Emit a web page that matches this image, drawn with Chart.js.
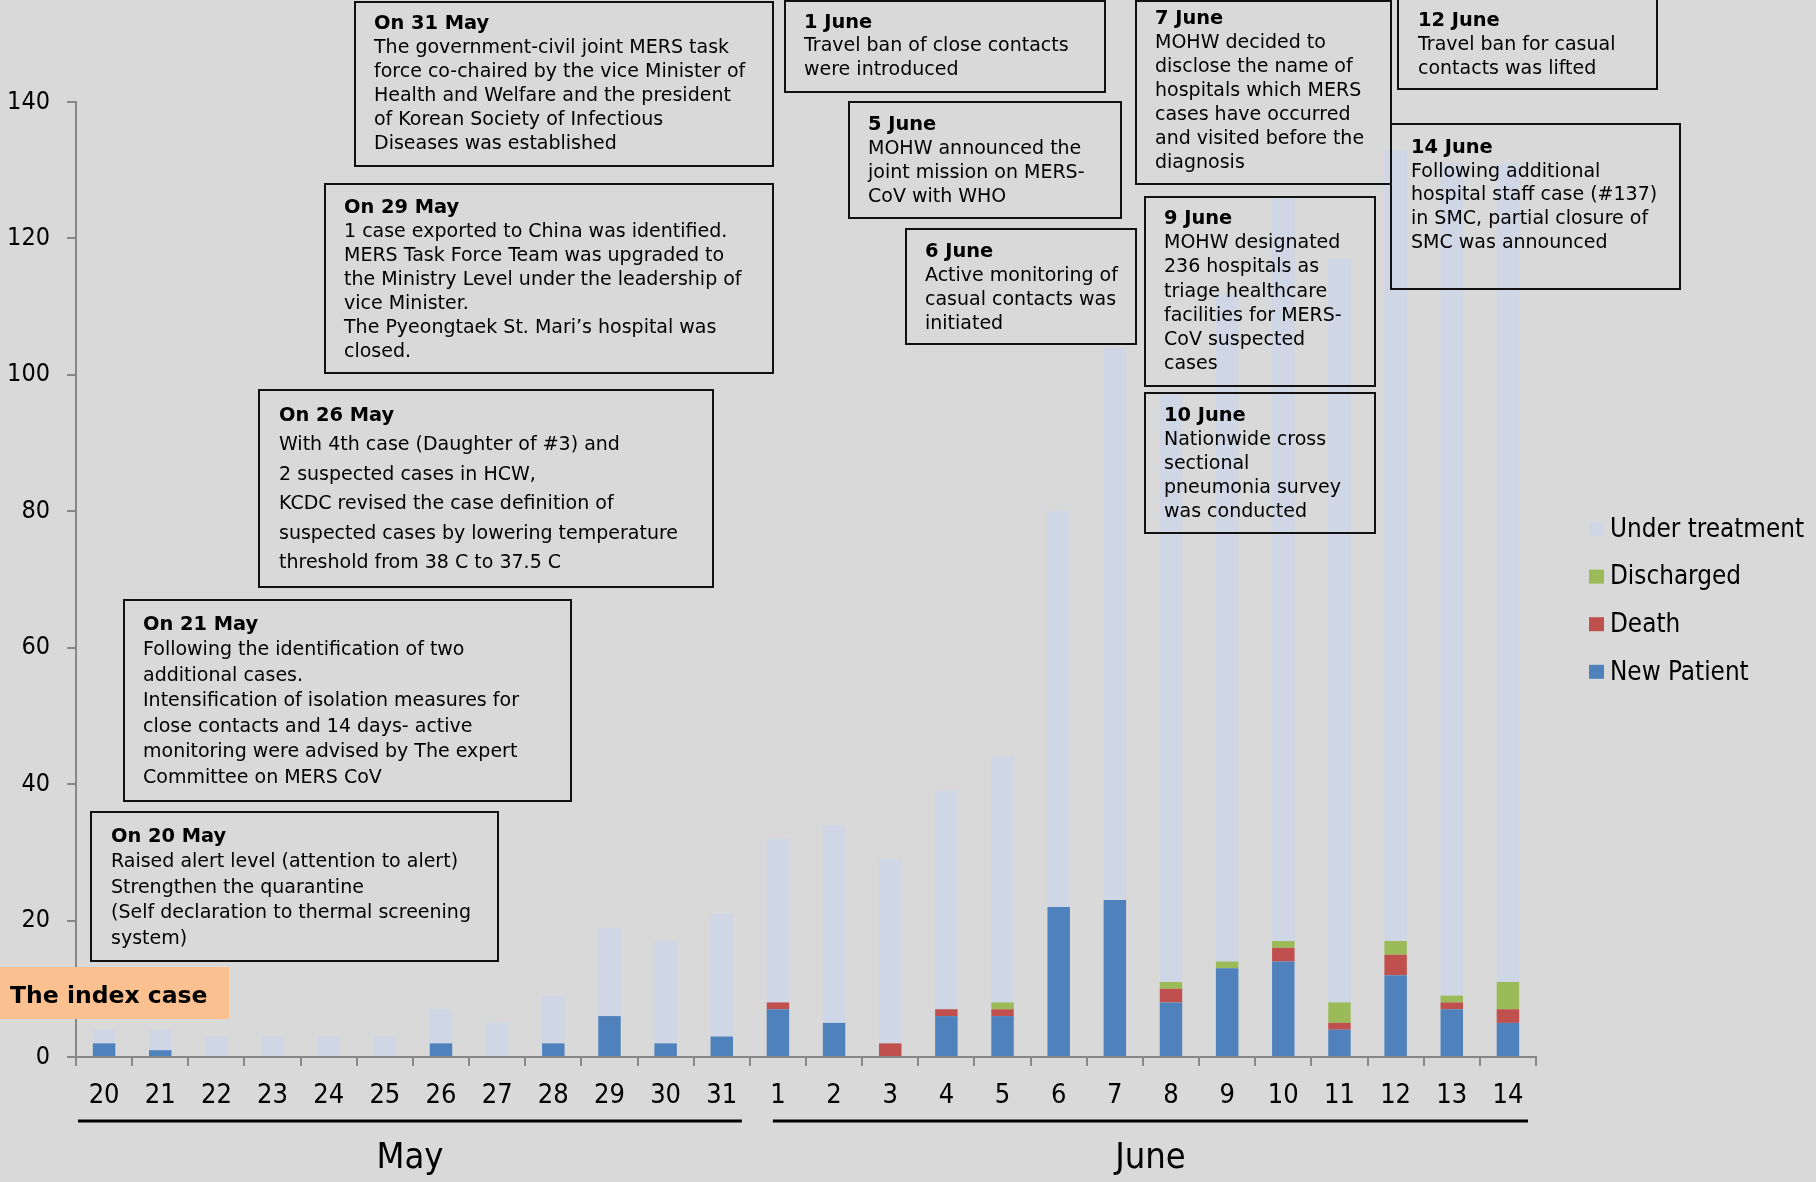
<!DOCTYPE html>
<html>
<head>
<meta charset="utf-8">
<title>MERS outbreak in Korea, 20 May – 14 June</title>
<script src="https://cdn.jsdelivr.net/npm/chart.js@4.4.1/dist/chart.umd.min.js"></script>
<style>
  html, body { margin: 0; padding: 0; background: #d9d9d9; }
  #wrap { width: 1816px; height: 1182px; }
</style>
</head>
<body>
<div id="wrap"><canvas id="c" width="1816" height="1182"></canvas></div>
<script>
// Days on the x axis (20–31 May, then 1–14 June)
const days = ['20','21','22','23','24','25','26','27','28','29','30','31',
              '1','2','3','4','5','6','7','8','9','10','11','12','13','14'];
const monthNames = ['May', 'June'];
const monthFirstIndex = [0, 12];
const monthLastIndex = [11, 25];

// Patient counts per day
const newPatient     = [2,1,0,0,0,0,2,0,2,6,2,3, 7,5,0,6,6,22,23,8,13,14,4,12,7,5];
const death          = [0,0,0,0,0,0,0,0,0,0,0,0, 1,0,2,1,1,0,0,2,0,2,1,3,1,2];
const discharged     = [0,0,0,0,0,0,0,0,0,0,0,0, 0,0,0,0,1,0,0,1,1,1,3,2,1,4];
const underTreatment = [2,3,3,3,3,3,5,5,7,13,15,18, 24,29,27,32,36,58,81,86,98,109,109,116,122,120];

const yTicks = [0, 20, 40, 60, 80, 100, 120, 140];

// Timeline of response measures
const noteTitles = ['On 31 May','On 29 May','On 26 May','On 21 May','On 20 May',
                    '1 June','5 June','6 June','7 June','12 June','14 June','9 June','10 June'];
const noteLines = [
  ['The government-civil joint MERS task','force co-chaired by the vice Minister of','Health and Welfare and the president','of Korean Society of Infectious','Diseases was established'],
  ['1 case exported to China was identified.','MERS Task Force Team was upgraded to','the Ministry Level under the leadership of','vice Minister.','The Pyeongtaek St. Mari\u2019s hospital was','closed.'],
  ['With 4th case (Daughter of #3) and','2 suspected cases in HCW,','KCDC revised the case definition of','suspected cases by lowering temperature','threshold from 38 C to 37.5 C'],
  ['Following the identification of two','additional cases.','Intensification of isolation measures for','close contacts and 14 days- active','monitoring were advised by The expert','Committee on MERS CoV'],
  ['Raised alert level (attention to alert)','Strengthen the quarantine','(Self declaration to thermal screening','system)'],
  ['Travel ban of close contacts','were introduced'],
  ['MOHW announced the','joint mission on MERS-','CoV with WHO'],
  ['Active monitoring of','casual contacts was','initiated'],
  ['MOHW decided to','disclose the name of','hospitals which MERS','cases have occurred','and visited before the','diagnosis'],
  ['Travel ban for casual','contacts was lifted'],
  ['Following additional','hospital staff case (#137)','in SMC, partial closure of','SMC was announced'],
  ['MOHW designated','236 hospitals as','triage healthcare','facilities for MERS-','CoV suspected','cases'],
  ['Nationwide cross','sectional','pneumonia survey','was conducted']
];
const indexCaseLabel = 'The index case';

// Box geometry for the notes: left, top, right, bottom, text x, title centre y, line step
const noteBoxes = [
  [355, 2, 773, 166, 374, 23, 24],
  [325, 184, 773, 373, 344, 207, 24],
  [259, 390, 713, 587, 279, 415, 29.4],
  [124, 600, 571, 801, 143, 624, 25.5],
  [91, 812, 498, 961, 111, 836, 25.5],
  [785, 1, 1105, 92, 804, 22, 23.5],
  [849, 102, 1121, 218, 868, 124, 24],
  [906, 229, 1136, 344, 925, 251, 24],
  [1136, 1, 1391, 184, 1155, 18, 24],
  [1398, -3, 1657, 89, 1418, 20, 24],
  [1391, 124, 1680, 289, 1411, 147, 23.75],
  [1145, 197, 1375, 386, 1164, 218, 24.2],
  [1145, 393, 1375, 533, 1164, 415, 24]
];

const FONT = '"DejaVu Sans Condensed", "DejaVu Sans", sans-serif';
const NOTE_FONT = '"DejaVu Sans", sans-serif';
const COLORS = {
  newPatient: '#4f81bd',
  death: '#c0504d',
  discharged: '#9bbb59',
  under: '#cfd7e6',
  axis: '#878787',
  bg: '#d9d9d9',
  index: '#fac090'
};

Chart.defaults.font.family = FONT;
Chart.defaults.color = '#000';

const backgroundPlugin = {
  id: 'bg',
  beforeDraw(chart) {
    const ctx = chart.ctx;
    ctx.save();
    ctx.fillStyle = COLORS.bg;
    ctx.fillRect(0, 0, chart.width, chart.height);
    ctx.restore();
  }
};

const decorPlugin = {
  id: 'decor',
  afterDraw(chart) {
    const ctx = chart.ctx;
    const xs = chart.scales.x;
    const cw = xs.getPixelForValue(1) - xs.getPixelForValue(0);
    ctx.save();

    // month underlines and names
    const lineInset = [[2, 8], [23, 8]];
    for (let m = 0; m < monthNames.length; m++) {
      const x0 = xs.getPixelForValue(monthFirstIndex[m]) - cw / 2 + lineInset[m][0];
      const x1 = xs.getPixelForValue(monthLastIndex[m]) + cw / 2 - lineInset[m][1];
      ctx.strokeStyle = '#000';
      ctx.lineWidth = 3;
      ctx.beginPath();
      ctx.moveTo(x0, 1121);
      ctx.lineTo(x1, 1121);
      ctx.stroke();
      ctx.fillStyle = '#000';
      ctx.font = '36px ' + FONT;
      ctx.textAlign = 'center';
      ctx.textBaseline = 'alphabetic';
      ctx.fillText(monthNames[m], (x0 + x1) / 2, 1168);
    }

    // legend, top of the stack first
    const order = [3, 2, 1, 0];
    ctx.font = '25.8px ' + FONT;
    ctx.textAlign = 'left';
    ctx.textBaseline = 'middle';
    order.forEach((di, k) => {
      const ds = chart.data.datasets[di];
      const cy = 529 + k * 47.6;
      ctx.fillStyle = ds.backgroundColor;
      ctx.fillRect(1589, cy - 7, 15, 14);
      ctx.fillStyle = '#000';
      ctx.fillText(ds.label, 1610, cy + 1);
    });

    // the index case tag
    ctx.fillStyle = COLORS.index;
    ctx.fillRect(0, 967, 229, 52);
    ctx.fillStyle = '#000';
    ctx.font = 'bold 23.5px ' + NOTE_FONT;
    ctx.textBaseline = 'middle';
    ctx.fillText(indexCaseLabel, 10, 997);

    // note boxes
    noteBoxes.forEach((b, i) => {
      const [l, t, r, btm, tx, ty, step] = b;
      ctx.strokeStyle = '#111';
      ctx.lineWidth = 2;
      ctx.strokeRect(l, t, r - l, btm - t);
      ctx.fillStyle = '#000';
      ctx.textAlign = 'left';
      ctx.textBaseline = 'middle';
      ctx.font = 'bold 19.4px ' + NOTE_FONT;
      ctx.fillText(noteTitles[i], tx, ty + 1);
      ctx.font = '19px ' + NOTE_FONT;
      noteLines[i].forEach((line, j) => {
        ctx.fillText(line, tx, ty + 1 + step * (j + 1));
      });
    });

    ctx.restore();
  }
};

new Chart(document.getElementById('c'), {
  type: 'bar',
  data: {
    labels: days,
    datasets: [
      { label: 'New Patient', data: newPatient, backgroundColor: COLORS.newPatient },
      { label: 'Death', data: death, backgroundColor: COLORS.death },
      { label: 'Discharged', data: discharged, backgroundColor: COLORS.discharged },
      { label: 'Under treatment', data: underTreatment, backgroundColor: COLORS.under }
    ]
  },
  options: {
    responsive: false,
    animation: false,
    devicePixelRatio: 1,
    layout: { padding: { left: 0, right: 280, top: 102, bottom: 0 } },
    datasets: { bar: { categoryPercentage: 1, barPercentage: 0.4, borderWidth: 0 } },
    plugins: { legend: { display: false }, tooltip: { enabled: false } },
    scales: {
      x: {
        stacked: true,
        offset: true,
        grid: { display: true, offset: true, drawOnChartArea: false, drawTicks: true,
                tickLength: 9, color: COLORS.axis, lineWidth: 2 },
        border: { display: true, color: COLORS.axis, width: 2 },
        ticks: { font: { size: 27, family: FONT }, color: '#000', padding: 14,
                 maxRotation: 0, autoSkip: false },
        afterFit(scale) { scale.height = 125; }
      },
      y: {
        stacked: true,
        min: 0,
        max: 140,
        afterBuildTicks(scale) { scale.ticks = yTicks.map(v => ({ value: v })); },
        grid: { display: true, drawOnChartArea: false, drawTicks: true,
                tickLength: 9, color: COLORS.axis, lineWidth: 2 },
        border: { display: true, color: COLORS.axis, width: 2 },
        ticks: { font: { size: 25, family: FONT }, color: '#000', padding: 17 },
        afterFit(scale) { scale.width = 76; }
      }
    }
  },
  plugins: [backgroundPlugin, decorPlugin]
});
</script>
</body>
</html>
